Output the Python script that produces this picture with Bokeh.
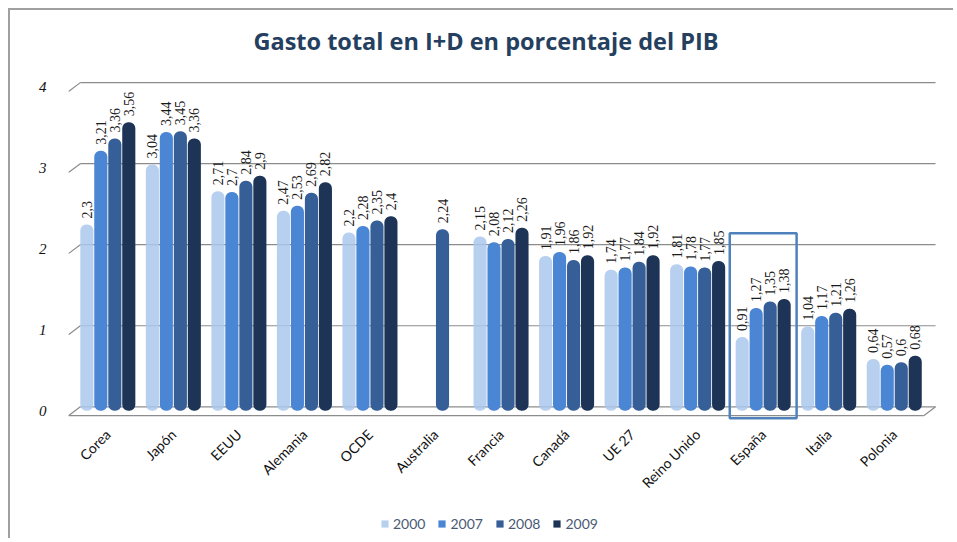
import math
from bokeh.plotting import figure
from bokeh.models import ColumnDataSource, FixedTicker, Legend, LegendItem, BoxAnnotation, Range1d
from bokeh.core.properties import value
from bokeh.embed import file_html
from bokeh.resources import INLINE

nan = float("nan")

title = "Gasto total en I+D en porcentaje del PIB"
countries = ["Corea", "Japón", "EEUU", "Alemania", "OCDE", "Australia", "Francia",
             "Canadá", "UE 27", "Reino Unido", "España", "Italia", "Polonia"]
years = ["2000", "2007", "2008", "2009"]
v2000 = [2.30, 3.04, 2.71, 2.47, 2.20, nan, 2.15, 1.91, 1.74, 1.81, 0.91, 1.04, 0.64]
v2007 = [3.21, 3.44, 2.70, 2.53, 2.28, nan, 2.08, 1.96, 1.77, 1.78, 1.27, 1.17, 0.57]
v2008 = [3.36, 3.45, 2.84, 2.69, 2.35, 2.24, 2.12, 1.86, 1.84, 1.77, 1.35, 1.21, 0.60]
v2009 = [3.56, 3.36, 2.90, 2.82, 2.40, nan, 2.26, 1.92, 1.92, 1.85, 1.38, 1.26, 0.68]
y_ticks = [0, 1, 2, 3, 4]
highlight = "España"

series = [v2000, v2007, v2008, v2009]
colors = ["#abc8ec", "#4a86d4", "#365f98", "#1d3457"]
alphas = [0.85, 1, 1, 1]
offsets = [-0.32, -0.107, 0.107, 0.32]
bar_w = 0.2

x0, x1 = -0.6, 12.66
y0, y1 = -1.6, 4.94
p = figure(width=945, height=530, output_backend="svg", toolbar_location=None,
           x_range=Range1d(x0, x1), y_range=Range1d(y0, y1),
           x_axis_location=None,
           min_border_left=58, min_border_right=18, min_border_top=0, min_border_bottom=0)
p.styles = {"border-left": "2px solid #a0a0a0", "border-top": "2px solid #a0a0a0",
            "margin-left": "8px", "margin-top": "8px"}
p.outline_line_color = None
p.background_fill_color = "white"

# title drawn as text inside the (extended) frame
p.text(x=[(x0 + x1) / 2], y=[y1], text=[title], x_offset=-17, y_offset=30,
       text_align="center", text_baseline="middle", text_font=value("Open Sans"),
       text_font_size="23.5px", text_font_style="bold", text_color="#243f60")

# pseudo-3D walls: back-plane gridlines, left-wall diagonals and the floor
back, depth_x, depth_y = 0.05, 0.18, 0.11
grid_col = "#8c8c8c"
p.segment(x0=[x0 + depth_x] * len(y_ticks), y0=[t + back for t in y_ticks],
          x1=[x1 - 0.03] * len(y_ticks), y1=[t + back for t in y_ticks],
          line_color=grid_col, line_width=1.2)
p.segment(x0=[x0] * len(y_ticks), y0=[t + back - depth_y for t in y_ticks],
          x1=[x0 + depth_x] * len(y_ticks), y1=[t + back for t in y_ticks],
          line_color=grid_col, line_width=1.2)
floor_y = y_ticks[0] + back - depth_y
p.segment(x0=[x0], y0=[floor_y], x1=[x1 - 0.03 - depth_x], y1=[floor_y],
          line_color=grid_col, line_width=1.2)
p.segment(x0=[x1 - 0.03 - depth_x], y0=[floor_y], x1=[x1 - 0.03], y1=[y_ticks[0] + back],
          line_color=grid_col, line_width=1.2)

items = []
for yr, vals, col, a, off in zip(years, series, colors, alphas, offsets):
    xs = [i + off for i, v in enumerate(vals) if not math.isnan(v)]
    ys = [v for v in vals if not math.isnan(v)]
    labs = [("%g" % v).replace(".", ",") for v in ys]
    src = ColumnDataSource(dict(x=xs, top=ys, lab=labs))
    r = p.vbar(x="x", top="top", bottom=0, width=bar_w, source=src, fill_color=col,
               fill_alpha=a, line_color=None, border_radius=6)
    p.text(x="x", y="top", text="lab", source=src, angle=math.pi / 2, text_align="left",
           text_baseline="middle", y_offset=-6, text_font=value("Liberation Serif"),
           text_font_size="14px", text_color="#1a1a1a")
    items.append(LegendItem(label=yr, renderers=[r]))

# category labels (drawn as text so the legend can sit inside the frame)
cat_src = ColumnDataSource(dict(x=list(range(len(countries))), y=[0] * len(countries),
                                lab=countries))
p.text(x="x", y="y", text="lab", source=cat_src, angle=math.pi / 4, text_align="right",
       text_baseline="middle", y_offset=21, x_offset=0, text_font=value("Lato"),
       text_font_size="14px", text_color="#111111")

hi = countries.index(highlight)
p.add_layout(BoxAnnotation(left=hi - 0.51, right=hi + 0.51, bottom=-0.09, top=2.19,
                           fill_alpha=0, line_color="#4f81bd", line_alpha=1, line_width=2.5))

legend = Legend(items=items, orientation="horizontal", location=(312, 8),
                glyph_width=9, glyph_height=9, label_text_font="Lato",
                label_text_font_size="14px", label_text_color="#4a5a74",
                spacing=12, border_line_color=None, background_fill_alpha=0,
                label_standoff=4, padding=3, margin=0)
p.add_layout(legend, "center")

p.yaxis.ticker = FixedTicker(ticks=y_ticks)
p.yaxis.major_label_text_font = "Liberation Serif"
p.yaxis.major_label_text_font_size = "15px"
p.yaxis.major_label_text_font_style = "italic"
p.yaxis.major_label_text_color = "#111111"
p.yaxis.axis_line_color = None
p.yaxis.major_tick_line_color = None
p.yaxis.minor_tick_line_color = None
p.yaxis.major_label_standoff = 16

p.xgrid.grid_line_color = None
p.ygrid.grid_line_color = None

open("out.html", "w").write(file_html(p, INLINE))
